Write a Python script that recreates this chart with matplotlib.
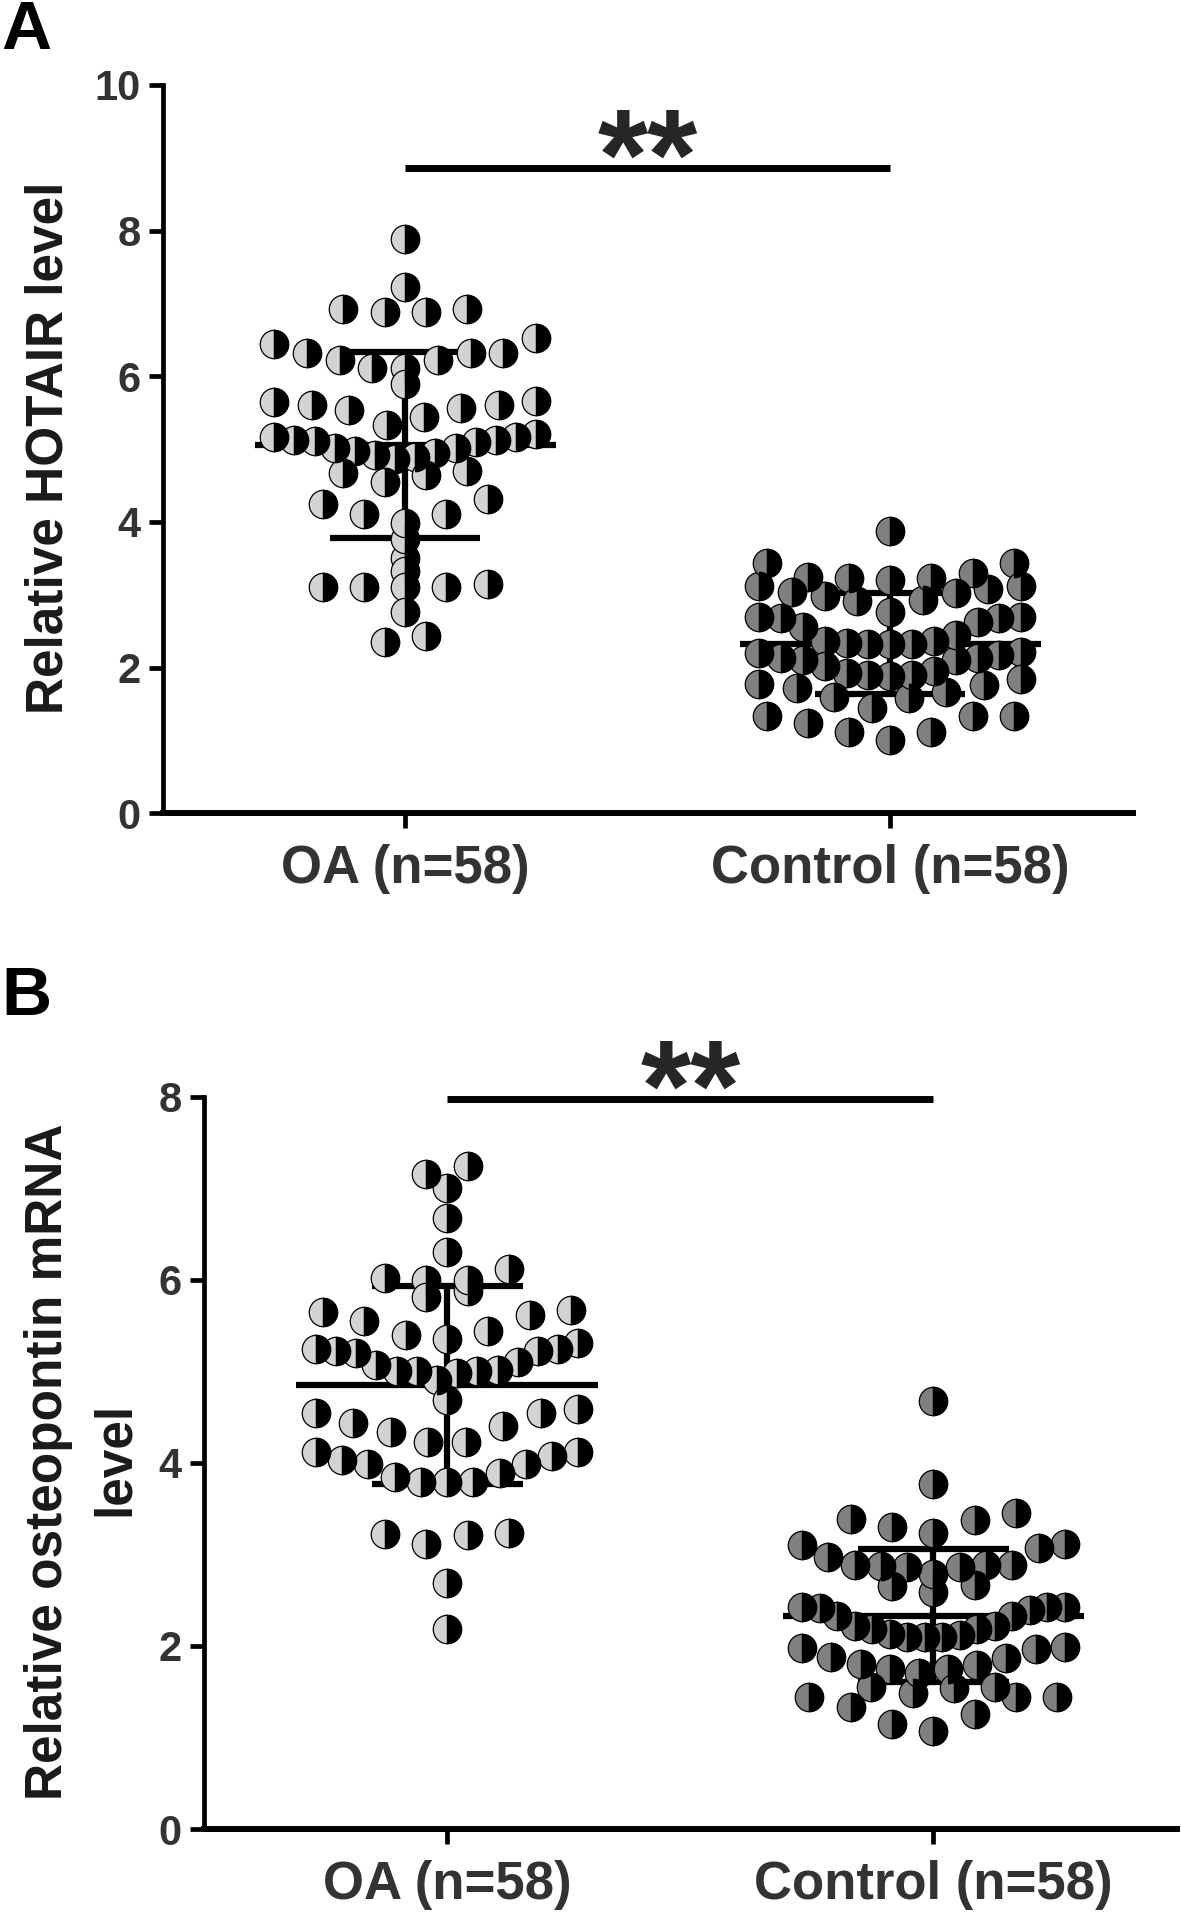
import matplotlib.pyplot as plt
import numpy as np

plt.rcParams['font.family'] = ['Liberation Sans', 'DejaVu Sans']
plt.rcParams['font.weight'] = 'bold'

# Значения
groups = ['OA (n=58)', 'Control (n=58)']

hotair_oa = np.array([7.88, 7.22, 6.92, 6.88, 6.88, 6.92, 6.52,
                      6.32, 6.32, 6.22, 6.11, 6.11, 6.22, 6.32, 6.44, 5.90,
                      5.66, 5.60, 5.57, 5.44, 5.33, 5.54, 5.60, 5.65,
                      5.13, 5.11, 5.01, 4.98, 4.87, 5.21, 5.16, 5.16, 4.92, 4.89,
                      4.94, 5.01, 5.10, 5.13,
                      4.70, 4.64, 4.55, 4.67, 4.24, 4.11, 3.98, 4.11, 4.32,
                      3.76, 3.50, 3.33, 3.11, 3.11, 3.11, 3.11, 3.15, 2.76, 2.35, 2.44])
hotair_ctrl = np.array([3.87, 3.43, 3.44, 3.30, 3.25,
                        3.23, 3.20, 3.12, 3.04, 2.98, 3.23, 3.12, 3.08, 3.02, 2.93,
                        2.91, 2.77, 2.68, 2.69,
                        2.68, 2.56, 2.36, 2.34, 2.33, 2.22, 2.17, 2.20,
                        2.70, 2.63, 2.45, 2.36, 2.33, 2.33,
                        2.13, 2.10, 1.95, 1.90, 1.85, 1.76, 1.72, 1.60, 1.58, 1.67,
                        1.78, 1.88, 1.90, 1.92, 2.02, 2.11, 2.13,
                        1.34, 1.34, 1.12, 1.01, 1.12, 1.24, 1.34, 1.44])

opn_oa = np.array([7.16, 7.24, 7.00, 6.67, 6.30,
                   6.02, 6.00, 6.00, 6.12, 5.88, 5.81, 5.67, 5.61, 5.65,
                   5.44, 5.35, 5.24, 5.22, 5.20, 5.22, 5.24, 5.31, 5.40, 5.55,
                   5.07, 5.00, 5.00, 4.91, 4.98, 5.00, 5.02, 5.10, 4.69,
                   4.55, 4.44, 4.34, 4.23, 4.23, 4.40, 4.54, 4.59,
                   4.12, 4.03, 3.99, 3.85, 3.79, 3.79, 3.79, 3.89, 3.99, 4.08, 4.12,
                   3.23, 3.11, 3.21, 3.22, 2.69, 2.19])
opn_ctrl = np.array([4.68, 3.77,
                     3.39, 3.30, 3.38, 3.45, 3.23, 3.11, 3.07, 3.10,
                     2.88, 2.87, 2.86, 2.79, 2.86, 2.88, 2.88, 2.97,
                     2.67, 2.59, 2.66, 2.43, 2.43,
                     2.41, 2.33, 2.22, 2.19, 2.13, 2.10, 2.10, 2.10, 2.12, 2.19,
                     2.22, 2.33, 2.39, 2.43,
                     1.98, 1.88, 1.80, 1.75, 1.70, 1.55, 1.54, 1.55, 1.75, 1.79,
                     1.87, 1.97, 1.99,
                     1.44, 1.44, 1.26, 1.07, 1.15, 1.33, 1.44, 1.49])

face_colors = ['#d3d3d3', '#808080']
text_color = '#333333'


def row_offsets(values, row_h, gap_split, step=0.085, width=0.54):
    # раскладка точек по рядам как в Prism: нижние значения в центре ряда
    order = np.argsort(values, kind='stable')
    v = values[order]
    rows, start = [], 0
    for i in range(1, len(v) + 1):
        if i == len(v) or v[i] - v[i - 1] > gap_split or v[i] - v[start] > row_h:
            rows.append(order[start:i])
            start = i
    off = np.zeros(len(values))
    for idx in rows:
        n = len(idx)
        if n < 2:
            continue
        d = min(step, width / (n - 1))
        slots = (np.arange(n) - (n - 1) / 2) * d
        slot_order = np.argsort(np.abs(slots), kind='stable')
        for k, j in enumerate(idx):
            off[j] = slots[slot_order[k]]
    return off


def draw_panel(ax, series, ylim, yticks, row_h, gap_split, bar_y):
    for i, vals in enumerate(series):
        m, s = vals.mean(), vals.std(ddof=1)
        kw = dict(color='black', lw=4.5, solid_capstyle='butt', zorder=2)
        ax.plot([i - 0.31, i + 0.31], [m, m], **kw)
        ax.plot([i, i], [m - s, m + s], **kw)
        ax.plot([i - 0.155, i + 0.155], [m + s, m + s], **kw)
        ax.plot([i - 0.155, i + 0.155], [m - s, m - s], **kw)

        x = i + row_offsets(vals, row_h, gap_split)
        o = np.argsort(x)
        ax.plot(x[o], vals[o], 'o', ls='none', ms=20.5, fillstyle='left',
                mfc=face_colors[i], mfcalt='black', mec='black', mew=0.9,
                zorder=3, clip_on=False)

    # линия значимости и звёздочки
    ax.plot([0, 1], [bar_y, bar_y], color='black', lw=5, solid_capstyle='butt',
            clip_on=False)
    ax.annotate('**', xy=(0.5, bar_y), xytext=(0, -23), textcoords='offset points',
                ha='center', va='baseline', fontsize=93, fontweight='bold',
                color='#262626', annotation_clip=False)

    ax.set_xlim(-0.5, 1.5)
    ax.set_ylim(*ylim)
    ax.set_yticks(yticks)
    ax.set_xticks([0, 1])
    ax.set_xticklabels(groups)
    for side in ['top', 'right']:
        ax.spines[side].set_visible(False)
    ax.spines['left'].set_linewidth(3.4)
    ax.spines['bottom'].set_linewidth(4.3)
    for side in ['left', 'bottom']:
        ax.spines[side].set_capstyle('projecting')
    ax.tick_params(axis='y', length=10, width=3.4, pad=6, labelsize=30,
                   labelcolor=text_color)
    ax.tick_params(axis='x', length=11, width=3.4, pad=11, labelsize=38,
                   labelcolor=text_color)


fig = plt.figure(figsize=(11.81, 19.14), dpi=100)
axA = fig.add_axes([0.1378, 0.5751, 0.8213, 0.3805])
axB = fig.add_axes([0.1727, 0.0444, 0.8236, 0.3826])

draw_panel(axA, [hotair_oa, hotair_ctrl], (0, 10), np.arange(0, 11, 2), 0.42, 0.15, 8.86)
draw_panel(axB, [opn_oa, opn_ctrl], (0, 8), np.arange(0, 9, 2), 0.40, 0.12, 7.98)

label_kw = dict(rotation=90, ha='center', va='center', fontsize=37, color='#1a1a1a')
fig.text(49 / 1181, 1 - 448 / 1914, 'Relative HOTAIR level', **label_kw)
# подпись оси панели B в две строки
fig.text(49 / 1181, 1 - 1461.6 / 1914, 'Relative osteopontin mRNA', **label_kw)
fig.text(115 / 1181, 1 - 1459 / 1914, 'level', **label_kw)

fig.text(0.001, 1 - 49 / 1914, 'A', ha='left', va='baseline', fontsize=50,
         color='black')
fig.text(0.001, 1 - 1015 / 1914, 'B', ha='left', va='baseline', fontsize=50,
         color='black')

fig.savefig('out.png', dpi=100)
